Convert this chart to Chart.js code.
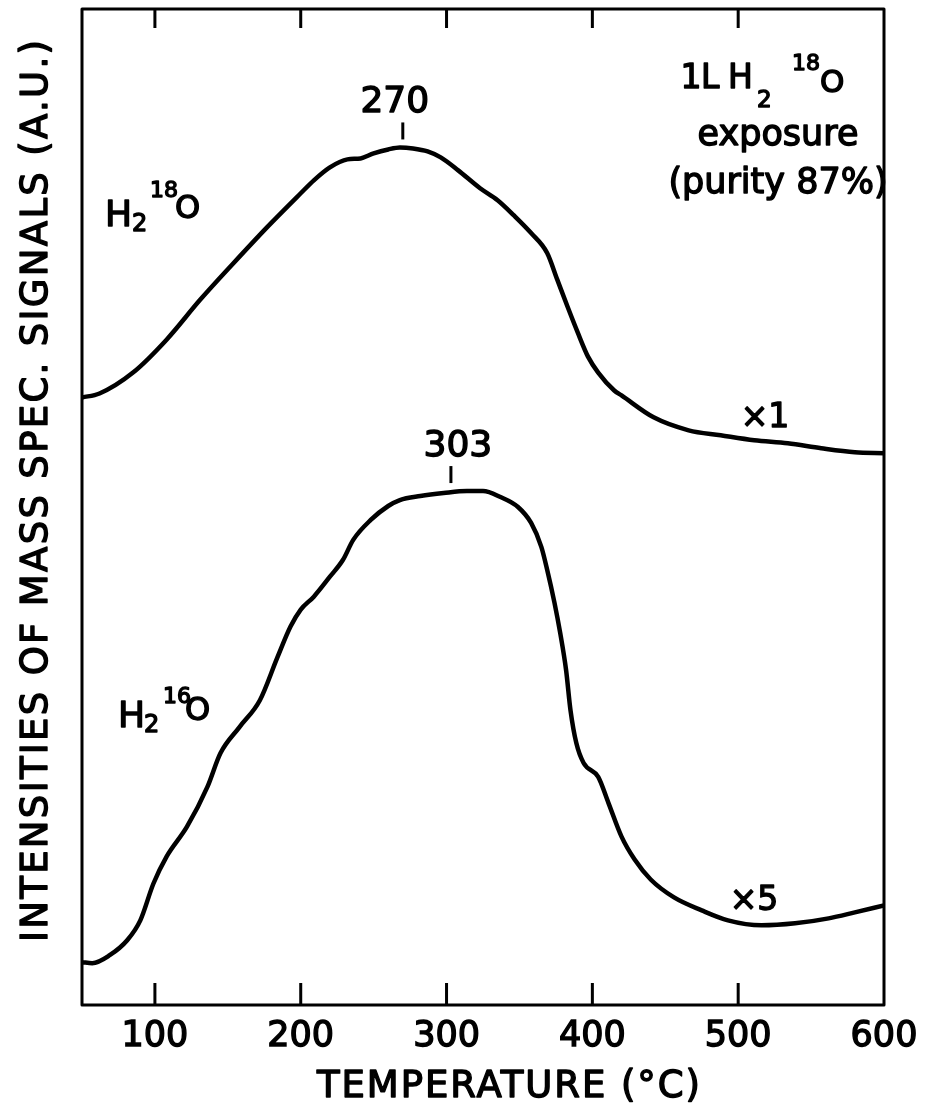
<!DOCTYPE html>
<html><head><meta charset="utf-8">
<script src="https://cdn.jsdelivr.net/npm/chart.js@4.4.0/dist/chart.umd.min.js"></script>
<style>html,body{margin:0;padding:0;background:#fff}#wrap{width:932px;height:1108px}</style>
</head><body><div id="wrap"><canvas id="c" width="932" height="1108"></canvas></div>
<script>
// ---- data ----
const xTicks = [100, 200, 300, 400, 500, 600];
const temps18 = [50, 62, 85, 108, 131, 154, 177, 200, 209, 220, 232, 241, 250, 260, 268, 277, 287, 296, 308, 323, 335, 346, 358, 369, 376, 383, 390, 397, 404, 415, 420, 442, 466, 488, 511, 534, 557, 580, 600];
const signal18 = [61.0, 61.4, 63.5, 66.8, 70.8, 74.5, 78.1, 81.5, 82.8, 84.1, 84.9, 85.0, 85.5, 85.9, 86.1, 86.0, 85.7, 85.1, 83.8, 82.0, 80.8, 79.3, 77.5, 75.5, 72.8, 70.1, 67.5, 65.1, 63.5, 61.7, 61.2, 59.0, 57.7, 57.2, 56.7, 56.4, 55.9, 55.5, 55.4];
const temps16 = [50, 57, 69, 81, 90, 99, 108, 122, 136, 145, 158, 172, 184, 193, 200, 209, 220, 229, 236, 248, 260, 268, 282, 298, 314, 325, 337, 349, 358, 365, 369, 374, 378, 382, 385, 389, 394, 404, 411, 420, 429, 440, 456, 475, 493, 516, 539, 562, 580, 600];
const signal16 = [4.3, 4.2, 5.0, 6.5, 8.5, 12.2, 14.9, 17.9, 21.9, 25.3, 27.9, 30.6, 34.9, 38.0, 39.7, 41.0, 43.0, 44.7, 46.7, 48.7, 50.1, 50.7, 51.1, 51.4, 51.6, 51.6, 51.0, 50.0, 48.4, 46.0, 43.7, 40.4, 37.3, 33.6, 29.6, 26.3, 24.3, 22.9, 20.3, 16.9, 14.6, 12.6, 10.8, 9.5, 8.5, 8.0, 8.2, 8.7, 9.3, 10.0];
const peakTemps = [270, 303];
const peakSignals = [86.1, 51.6];
const peakLabels = ['270', '303'];
const scaleLabels = ['×1', '×5'];

const FF = "'DejaVu Sans', sans-serif";
const STROKE = 1.4;
const toXY = (xs, ys) => xs.map((x, i) => ({x: x, y: ys[i]}));

function paint(ctx, str, x, y) {
  ctx.lineWidth = STROKE;
  ctx.lineJoin = 'round';
  ctx.fillText(str, x, y);
  ctx.strokeText(str, x, y);
}
function fitText(ctx, str, x, y, size, width) {
  ctx.font = size + 'px ' + FF;
  ctx.letterSpacing = '0px';
  const w0 = ctx.measureText(str).width;
  const n = [...str].length;
  const ls = (width - w0) / (n - 1);
  ctx.letterSpacing = ls + 'px';
  ctx.textAlign = 'left';
  ctx.textBaseline = 'alphabetic';
  paint(ctx, str, x, y);
  ctx.letterSpacing = '0px';
}
function txt(ctx, str, x, y, size, align) {
  ctx.font = size + 'px ' + FF;
  ctx.textAlign = align || 'left';
  ctx.textBaseline = 'alphabetic';
  paint(ctx, str, x, y);
}

const bgPlugin = {
  id: 'bg',
  beforeDraw(chart) {
    const c = chart.ctx;
    c.save(); c.fillStyle = '#fff'; c.fillRect(0, 0, chart.width, chart.height); c.restore();
  }
};

const decoPlugin = {
  id: 'deco',
  afterDraw(chart) {
    const c = chart.ctx;
    const a = chart.chartArea;
    const xs = chart.scales.x, ys = chart.scales.y;
    c.save();
    c.strokeStyle = '#000'; c.fillStyle = '#000';
    c.lineWidth = 3; c.lineJoin = 'round'; c.lineCap = 'butt';
    c.strokeRect(a.left, a.top, a.right - a.left, a.bottom - a.top);
    // inward ticks top and bottom
    xTicks.forEach(v => {
      const px = xs.getPixelForValue(v);
      if (px > a.right - 4) return;
      c.beginPath();
      c.moveTo(px, a.bottom); c.lineTo(px, a.bottom - 22);
      c.moveTo(px, a.top); c.lineTo(px, a.top + 19);
      c.stroke();
    });
    // peak markers
    const dx = [-8, 7];
    peakTemps.forEach((t, i) => {
      const px = xs.getPixelForValue(t);
      const py = ys.getPixelForValue(peakSignals[i]);
      c.lineWidth = 3;
      c.beginPath(); c.moveTo(px, py - 25); c.lineTo(px, py - 8); c.stroke();
      txt(c, peakLabels[i], px + dx[i], py - 35, 36, 'center');
    });
    // series scale factors
    txt(c, scaleLabels[0], 765, 427, 33, 'center');
    txt(c, scaleLabels[1], 754, 910, 33, 'center');
    // species labels
    txt(c, 'H', 105, 226, 36);
    txt(c, '2', 132, 231, 24);
    txt(c, '18', 150, 197, 22);
    txt(c, 'O', 175, 218, 32);

    txt(c, 'H', 118, 727, 36);
    txt(c, '2', 144, 732, 24);
    txt(c, '16', 163, 703, 22);
    txt(c, 'O', 185, 720, 32);

    // top-right note
    txt(c, '1', 691, 88, 33, 'center');
    txt(c, 'L', 701, 88, 33);
    txt(c, 'H', 728, 88, 33);
    txt(c, '2', 757, 107, 23);
    txt(c, '18', 792, 70, 22);
    txt(c, 'O', 820, 92, 31);
    txt(c, 'exposure', 778, 145, 35, 'center');
    txt(c, '(purity 87%)', 778, 193, 35, 'center');

    // axis titles
    fitText(c, 'TEMPERATURE (°C)', 317, 1097, 37, 383);
    c.translate(47, 942);
    c.rotate(-Math.PI / 2);
    fitText(c, 'INTENSITIES OF MASS SPEC. SIGNALS (A.U.)', 0, 0, 37, 902);
    c.restore();
  }
};

new Chart(document.getElementById('c'), {
  type: 'line',
  data: {
    datasets: [
      {label: 'H2 18O', data: toXY(temps18, signal18), borderColor: '#000', borderWidth: 4.5, pointRadius: 0, fill: false, cubicInterpolationMode: 'monotone'},
      {label: 'H2 16O', data: toXY(temps16, signal16), borderColor: '#000', borderWidth: 4.5, pointRadius: 0, fill: false, cubicInterpolationMode: 'monotone'}
    ]
  },
  options: {
    responsive: false,
    animation: false,
    devicePixelRatio: 1,
    layout: {padding: {left: 82, right: 48, top: 9, bottom: 0}},
    plugins: {legend: {display: false}, tooltip: {enabled: false}},
    scales: {
      x: {
        type: 'linear', min: 50, max: 600,
        afterBuildTicks: s => { s.ticks = xTicks.map(v => ({value: v})); },
        afterFit: s => { s.height = 103; },
        grid: {display: false, drawTicks: false},
        border: {display: false},
        ticks: {color: '#000', font: {family: FF, size: 35}, padding: 11, maxRotation: 0, autoSkip: false,
                textStrokeColor: '#000', textStrokeWidth: STROKE}
      },
      y: {type: 'linear', min: 0, max: 100, display: false}
    }
  },
  plugins: [bgPlugin, decoPlugin]
});
</script>
</body></html>
